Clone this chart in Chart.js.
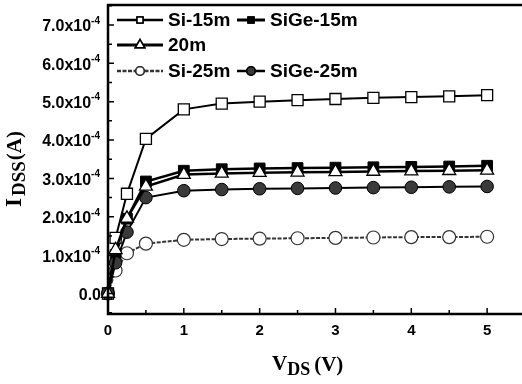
<!DOCTYPE html>
<html>
<head>
<meta charset="utf-8">
<script src="https://cdn.jsdelivr.net/npm/chart.js@4/dist/chart.umd.min.js"></script>
<style>
  html, body { margin: 0; padding: 0; background: #fff; overflow: hidden; }
</style>
</head>
<body>
<canvas id="ids-chart" width="522" height="384"></canvas>
<script>
// Drain voltage V_DS (V)
const vds = [0, 0.1, 0.25, 0.5, 1, 1.5, 2, 2.5, 3, 3.5, 4, 4.5, 5];

// Drain current I_DSS, in units of 1e-4 A
const si15m   = [0, 1.45, 2.6, 4.03, 4.8, 4.95, 5.0, 5.04, 5.07, 5.1, 5.12, 5.14, 5.17];
const sige15m = [0, 1.0, 1.95, 2.92, 3.2, 3.24, 3.26, 3.27, 3.28, 3.29, 3.3, 3.31, 3.33];
const m20     = [0, 1.14, 1.96, 2.79, 3.1, 3.13, 3.15, 3.16, 3.17, 3.18, 3.19, 3.2, 3.21];
const si25m   = [0, 0.6, 1.05, 1.3, 1.4, 1.42, 1.43, 1.44, 1.45, 1.46, 1.47, 1.47, 1.48];
const sige25m = [0, 0.8, 1.6, 2.5, 2.68, 2.71, 2.73, 2.74, 2.75, 2.76, 2.77, 2.78, 2.79];

// Axis ticks
const xTicks = [0, 1, 2, 3, 4, 5];
const xTickLabels = ['0', '1', '2', '3', '4', '5'];
const yTicks = [0, 1, 2, 3, 4, 5, 6, 7];
const yTickLabels = ['0.0', '1.0x10', '2.0x10', '3.0x10', '4.0x10', '5.0x10', '6.0x10', '7.0x10'];
const yTickExp = '-4';

/**
 * Build one line dataset from the shared x values
 */
function makeSeries(label, values, style) {
  return Object.assign({
    label: label,
    data: vds.map((v, i) => ({ x: v, y: values[i] })),
    borderColor: '#000',
    pointBorderColor: '#000',
    tension: 0,
    clip: false,
    fill: false
  }, style);
}

const datasets = [
  makeSeries('Si-15m', si15m, {
    borderWidth: 2, pointStyle: 'rect', pointRadius: 7.8,
    pointBackgroundColor: '#fff', pointBorderWidth: 1.3, order: 2
  }),
  makeSeries('SiGe-15m', sige15m, {
    borderWidth: 2.5, pointStyle: 'rect', pointRadius: 7.6,
    pointBackgroundColor: '#000', pointBorderWidth: 1, order: 3
  }),
  makeSeries('20m', m20, {
    borderWidth: 2.5, pointStyle: 'triangle', pointRadius: 7.5,
    pointBackgroundColor: '#fff', pointBorderWidth: 1.3, order: 0
  }),
  makeSeries('Si-25m', si25m, {
    borderWidth: 2, borderColor: '#333', borderDash: [4, 1.5], pointStyle: 'circle', pointRadius: 6.5,
    pointBackgroundColor: '#fff', pointBorderColor: '#333', pointBorderWidth: 1.2, order: 4
  }),
  makeSeries('SiGe-25m', sige25m, {
    borderWidth: 2, pointStyle: 'circle', pointRadius: 6.3,
    pointBackgroundColor: '#3a3a3a', pointBorderWidth: 1, order: 1
  })
];

// Legend layout: rows of [dataset index, start x, line length]
const legendRows = [
  { y: 20, items: [[0, 117, 46], [1, 237, 28]] },
  { y: 45, items: [[2, 117, 46]] },
  { y: 71, items: [[3, 117, 46], [4, 237, 28]] }
];

/**
 * Draws the boxed axes, inward ticks, labels, titles and legend
 */
const paperAxes = {
  id: 'paperAxes',
  afterDraw(chart) {
    const ctx = chart.ctx;
    const a = chart.chartArea;
    const xs = chart.scales.x;
    const ys = chart.scales.y;
    ctx.save();

    // Frame
    ctx.strokeStyle = '#000';
    ctx.lineWidth = 2.5;
    ctx.beginPath();
    ctx.moveTo(a.right + 2, a.top);
    ctx.lineTo(a.left, a.top);
    ctx.lineTo(a.left, a.bottom);
    ctx.lineTo(a.right + 2, a.bottom);
    ctx.stroke();

    // Inward ticks (major + half-step minor)
    ctx.lineWidth = 1.5;
    ctx.beginPath();
    for (let v = 0; v <= 5; v += 0.5) {
      const px = xs.getPixelForValue(v);
      const len = Number.isInteger(v) ? 6 : 4;
      ctx.moveTo(px, a.bottom);
      ctx.lineTo(px, a.bottom - len);
    }
    for (let v = -0.5; v <= 7.5; v += 0.5) {
      const py = ys.getPixelForValue(v);
      const len = Number.isInteger(v) ? 6 : 4;
      ctx.moveTo(a.left, py);
      ctx.lineTo(a.left + len, py);
    }
    ctx.stroke();

    // X tick labels
    ctx.fillStyle = '#000';
    ctx.font = 'bold 15px "Liberation Sans", Arial, sans-serif';
    ctx.textAlign = 'center';
    ctx.textBaseline = 'middle';
    xTicks.forEach((v, i) => {
      ctx.fillText(xTickLabels[i], xs.getPixelForValue(v), 331);
    });

    // Y tick labels with superscript exponent
    yTicks.forEach((v, i) => {
      const py = ys.getPixelForValue(v) + 2;
      const label = yTickLabels[i];
      ctx.textBaseline = 'middle';
      ctx.textAlign = 'right';
      if (v === 0) {
        ctx.font = 'bold 16px "Liberation Sans", Arial, sans-serif';
        ctx.fillText(label, 101, py);
        return;
      }
      ctx.font = 'bold 10px "Liberation Sans", Arial, sans-serif';
      ctx.fillText(yTickExp, 100, py - 6);
      const expW = ctx.measureText(yTickExp).width;
      ctx.font = 'bold 16px "Liberation Sans", Arial, sans-serif';
      ctx.fillText(label, 100 - expW, py);
    });

    // X axis title: V_DS (V)
    ctx.textAlign = 'left';
    ctx.textBaseline = 'alphabetic';
    let tx = 272;
    ctx.font = 'bold 21px "Liberation Serif", "Times New Roman", serif';
    ctx.fillText('V', tx, 370);
    tx += ctx.measureText('V').width;
    ctx.font = 'bold 18px "Liberation Serif", "Times New Roman", serif';
    ctx.fillText('DS', tx, 375);
    tx += ctx.measureText('DS').width + 4;
    ctx.font = 'bold 21px "Liberation Serif", "Times New Roman", serif';
    ctx.fillText('(V)', tx, 371);

    // Y axis title: I_DSS(A), rotated
    ctx.save();
    ctx.translate(0, 207);
    ctx.rotate(-Math.PI / 2);
    let lx = 0;
    ctx.font = 'bold 23px "Liberation Serif", "Times New Roman", serif';
    ctx.fillText('I', lx, 21);
    lx += ctx.measureText('I').width + 2;
    ctx.font = 'bold 19px "Liberation Serif", "Times New Roman", serif';
    ctx.fillText('DSS', lx, 25);
    lx += ctx.measureText('DSS').width + 1;
    ctx.font = 'bold 21px "Liberation Serif", "Times New Roman", serif';
    ctx.fillText('(A)', lx, 21);
    ctx.restore();

    // Legend
    ctx.font = 'bold 19px "Liberation Sans", Arial, sans-serif';
    ctx.textBaseline = 'middle';
    legendRows.forEach(row => {
      row.items.forEach(([idx, x0, len]) => {
        const ds = chart.data.datasets[idx];
        ctx.save();
        ctx.strokeStyle = ds.borderColor;
        ctx.lineWidth = ds.borderWidth + 0.5;
        ctx.setLineDash(ds.borderDash || []);
        ctx.beginPath();
        ctx.moveTo(x0, row.y);
        ctx.lineTo(x0 + len, row.y);
        ctx.stroke();
        ctx.restore();
        Chart.helpers.drawPoint(ctx, {
          pointStyle: ds.pointStyle,
          radius: ds.pointStyle === 'triangle' ? 5.5 : 4.2,
          rotation: 0,
          borderWidth: 1.2
        }, x0 + len / 2, row.y);
        ctx.fillStyle = ds.pointBackgroundColor;
        ctx.strokeStyle = ds.pointBorderColor;
        ctx.fill();
        ctx.stroke();
        ctx.fillStyle = '#000';
        ctx.fillText(ds.label, x0 + len + 5, row.y + 1);
      });
    });

    ctx.restore();
  }
};

const chart = new Chart(document.getElementById('ids-chart').getContext('2d'), {
  type: 'line',
  data: { datasets: datasets },
  options: {
    responsive: false,
    animation: false,
    events: [],
    layout: { autoPadding: false, padding: { left: 108, top: 5, right: 0, bottom: 70 } },
    plugins: {
      legend: { display: false },
      tooltip: { enabled: false }
    },
    scales: {
      x: { type: 'linear', min: 0, max: 5.46, display: false },
      y: { type: 'linear', min: -0.534, max: 7.52, display: false }
    }
  },
  plugins: [paperAxes]
});
</script>
</body>
</html>
